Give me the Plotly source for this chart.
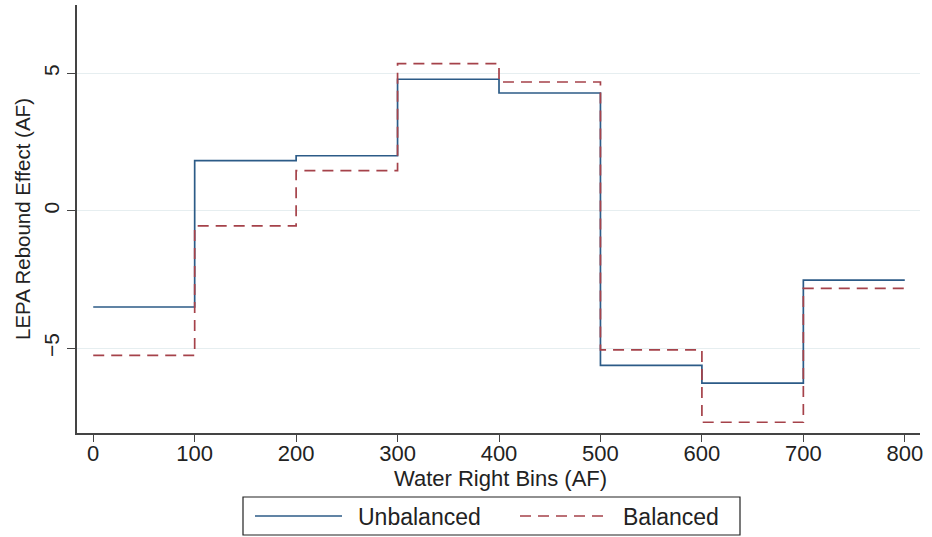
import plotly.graph_objects as go

bin_edges = [0, 100, 200, 300, 400, 500, 600, 700, 800]
unbalanced = [-3.50, 1.82, 2.00, 4.78, 4.28, -5.62, -6.27, -2.52]
balanced = [-5.26, -0.55, 1.46, 5.35, 4.68, -5.06, -7.69, -2.82]
x_ticks = [0, 100, 200, 300, 400, 500, 600, 700, 800]
y_ticks = [-5, 0, 5]
series_names = ["Unbalanced", "Balanced"]
x_title = "Water Right Bins (AF)"
y_title = "LEPA Rebound Effect (AF)"

font_family = "Liberation Sans, Arial, sans-serif"
BLUE = "#2c5b87"
RED = "#a5424a"
DASH = "11px,7px"

W, H = 932, 537
L, R, T, B = 77, 12, 5, 104
PW, PH = W - L - R, H - T - B


def px(xp):
    return (xp - L) / PW


def py(yp):
    return (H - B - yp) / PH


fig = go.Figure()
fig.add_trace(go.Scatter(
    x=bin_edges, y=unbalanced + [unbalanced[-1]], mode="lines", line_shape="hv",
    name=series_names[0], line=dict(color=BLUE, width=1.7), showlegend=False))
fig.add_trace(go.Scatter(
    x=bin_edges, y=balanced + [balanced[-1]], mode="lines", line_shape="hv",
    name=series_names[1], line=dict(color=RED, width=1.7, dash=DASH), showlegend=False))

# custom legend box (decoration)
shapes = [
    dict(type="rect", xref="paper", yref="paper", x0=px(243), x1=px(740), y0=py(535), y1=py(497),
         line=dict(color="#222", width=1.2), fillcolor="white", layer="above"),
    dict(type="line", xref="paper", yref="paper", x0=px(255), x1=px(342), y0=py(516), y1=py(516),
         line=dict(color=BLUE, width=1.6)),
    dict(type="line", xref="paper", yref="paper", x0=px(520), x1=px(610), y0=py(516), y1=py(516),
         line=dict(color=RED, width=1.6, dash=DASH)),
]
annotations = [
    dict(text=series_names[0], xref="paper", yref="paper", x=px(356), y=py(517),
         xanchor="left", yanchor="middle", showarrow=False, font=dict(size=23)),
    dict(text=series_names[1], xref="paper", yref="paper", x=px(621), y=py(517),
         xanchor="left", yanchor="middle", showarrow=False, font=dict(size=23)),
    dict(text=x_title, xref="paper", yref="paper", x=px(500), y=py(478),
         xanchor="center", yanchor="middle", showarrow=False, font=dict(size=22)),
    dict(text=y_title, xref="paper", yref="paper", x=px(22), y=py(219), textangle=-90,
         xanchor="center", yanchor="middle", showarrow=False, font=dict(size=20.5)),
]

fig.update_layout(
    width=W, height=H,
    margin=dict(l=L, r=R, t=T, b=B, autoexpand=False),
    paper_bgcolor="white", plot_bgcolor="white",
    font=dict(family=font_family, size=20, color="#222"),
    showlegend=False,
    shapes=shapes, annotations=annotations,
    xaxis=dict(range=[-16, 815], tickvals=x_ticks, showgrid=False, zeroline=False,
               showline=True, linecolor="#444", linewidth=1.5, automargin=False,
               ticks="outside", ticklen=7, tickcolor="#444", tickfont=dict(size=22),
               ticklabelstandoff=-7),
    yaxis=dict(range=[-8.08, 7.48], tickvals=y_ticks, tickangle=-90, automargin=False,
               showgrid=True, gridcolor="#e6eef0", gridwidth=1, zeroline=False,
               showline=True, linecolor="#444", linewidth=1.5,
               ticks="outside", ticklen=8, tickcolor="#444", tickfont=dict(size=21)),
)

fig.write_html("out.html")
